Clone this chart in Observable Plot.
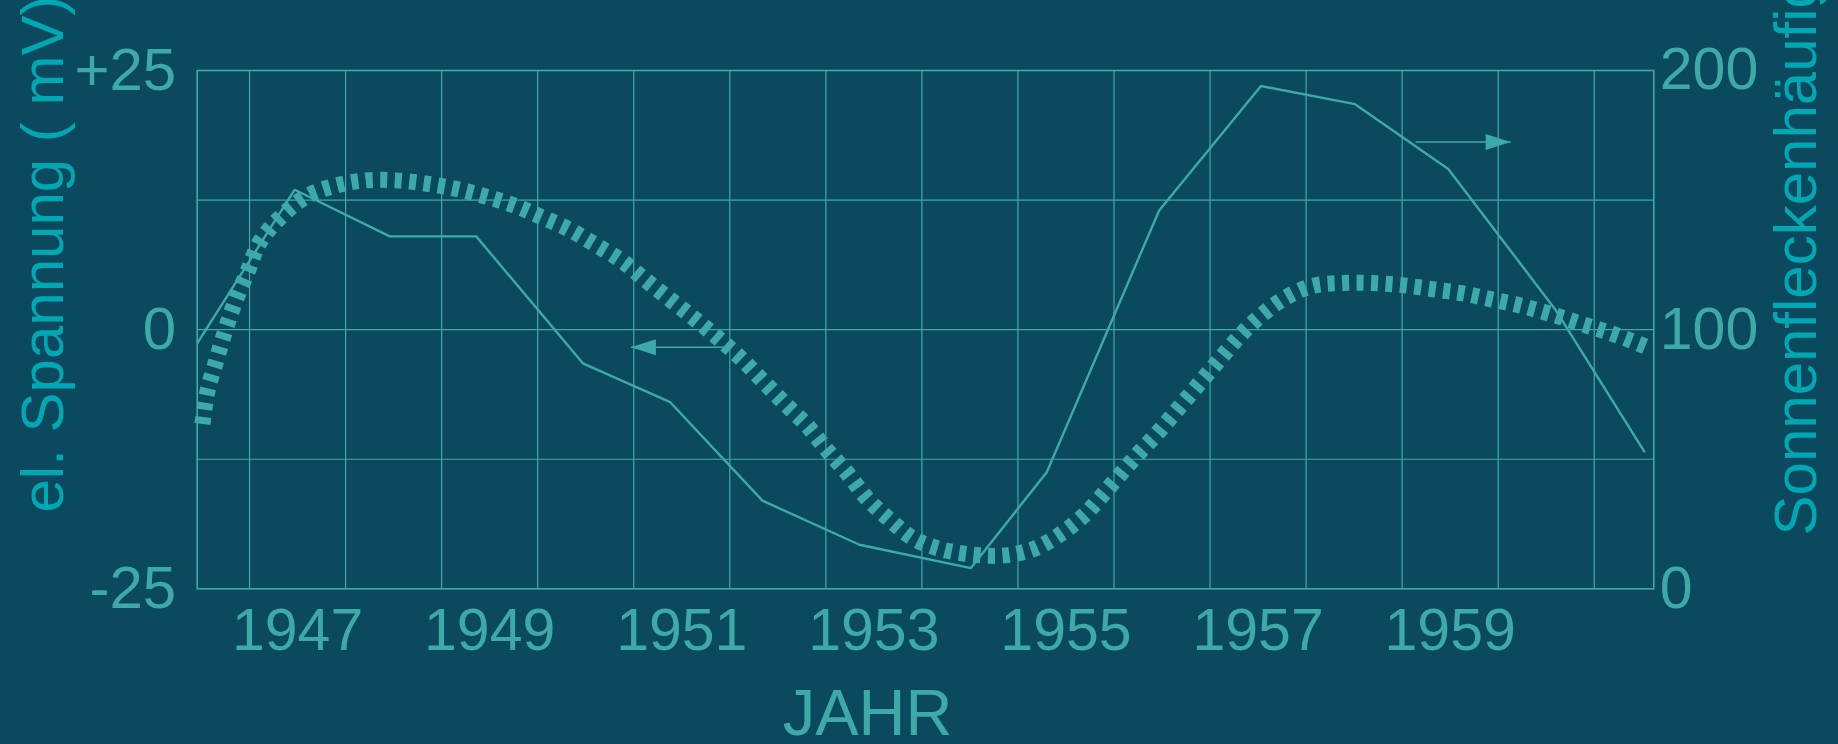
<!DOCTYPE html>
<html>
<head>
<meta charset="utf-8">
<script src="https://cdn.jsdelivr.net/npm/d3@7"></script>
<script src="https://cdn.jsdelivr.net/npm/@observablehq/plot@0.6"></script>
<style>
  html, body { margin: 0; padding: 0; background: #0b4a5e; overflow: hidden; }
</style>
</head>
<body>
<div id="chart"></div>
<script>
// ---- data ----
// Sunspot numbers (right axis), plotted near the middle of each year
const sunspotYears  = [1946.46, 1947.47, 1948.46, 1949.36, 1950.47, 1951.38, 1952.34, 1953.35, 1954.51, 1955.30, 1956.47, 1957.53, 1958.51, 1959.48, 1960.59, 1961.52];
const sunspotValues = [95, 154, 136, 136, 87, 72, 34, 17, 8, 45, 146, 194, 187, 162, 108, 53];

// Electric voltage in mV (left axis), smooth thick dotted curve
const voltYears  = [1946.51, 1946.56, 1946.65, 1946.75, 1946.85, 1946.98, 1947.11, 1947.35, 1947.60, 1947.90, 1948.21, 1948.52, 1948.83, 1949.14, 1949.44, 1949.75, 1950.03, 1950.32, 1950.60, 1950.88, 1951.12, 1951.38, 1951.64, 1951.89, 1952.13, 1952.35, 1952.58, 1952.81, 1953.01, 1953.22, 1953.43, 1953.66, 1953.92, 1954.21, 1954.52, 1954.84, 1955.15, 1955.43, 1955.69, 1955.81, 1956.23, 1956.45, 1956.66, 1956.86, 1957.07, 1957.29, 1957.51, 1957.77, 1958.06, 1958.38, 1958.69, 1959.00, 1959.32, 1959.63, 1959.94, 1960.24, 1960.55, 1960.85, 1961.16, 1961.45, 1961.58];
const voltValues = [-9.1, -6.0, -3.1, 0, 2.7, 5.6, 8.5, 11.1, 12.9, 13.9, 14.4, 14.4, 14.1, 13.6, 12.9, 12.0, 10.9, 9.7, 8.2, 6.6, 4.8, 2.9, 1.0, -0.9, -2.9, -5.0, -7.2, -9.3, -11.6, -13.8, -16.3, -18.3, -20.2, -21.2, -21.7, -21.8, -21.2, -19.8, -17.9, -16.7, -12.2, -10.0, -7.7, -5.5, -3.2, -0.8, 1.2, 3.0, 4.2, 4.5, 4.5, 4.3, 3.9, 3.5, 2.9, 2.3, 1.5, 0.6, -0.3, -1.3, -1.8];

// Arrows: one pointing to the left axis (voltage), one to the right axis (sunspots)
const arrowFromYears = [1951.94, 1959.14];
const arrowToYears   = [1950.97, 1960.13];
const arrowLevelsMV  = [-1.7, 18.1];

// Axes / grid
const gridYears      = [1947, 1948, 1949, 1950, 1951, 1952, 1953, 1954, 1955, 1956, 1957, 1958, 1959, 1960, 1961];
const gridVolts      = [-12.5, 0, 12.5];
const xLabelYears    = [1947, 1949, 1951, 1953, 1955, 1957, 1959];
const leftTicks      = [-25, 0, 25];
const leftTickLabels = ["-25", "0", "+25"];
const rightTicks     = [0, 100, 200];
const rightTickLabels = ["0", "100", "200"];

const xTitle = "JAHR";
const leftTitle = "el. Spannung ( mV)";
const rightTitle = "Sonnenfleckenhäufigkeit";

// ---- helpers ----
const toMV = s => (s - 100) / 4;          // sunspot scale 0..200 ↔ mV -25..+25
const sun = sunspotYears.map((year, i) => ({year, count: sunspotValues[i]}));
const volt = voltYears.map((year, i) => ({year, mv: voltValues[i]}));
const arrows = arrowFromYears.map((from, i) => ({from, to: arrowToYears[i], level: arrowLevelsMV[i]}));

const bg = "#0b4a5e";
const ink = "#3ea9a9";
const titleInk = "#00a8b3";

const headRight = { draw(ctx) { ctx.moveTo(0, 0); ctx.lineTo(-25, -8); ctx.lineTo(-25, 8); ctx.closePath(); } };
const headLeft  = { draw(ctx) { ctx.moveTo(0, 0); ctx.lineTo(25, -8); ctx.lineTo(25, 8); ctx.closePath(); } };

const chart = Plot.plot({
  width: 1838,
  height: 744,
  marginTop: 70,
  marginRight: 184.7,
  marginBottom: 155.7,
  marginLeft: 196.7,
  style: {background: bg, color: ink, fontFamily: "'Liberation Sans', Arial, sans-serif", fontSize: "59px"},
  x: {domain: [1946.455, 1961.62]},
  y: {domain: [-25, 25]},
  marks: [
    Plot.ruleX(gridYears, {stroke: ink, strokeWidth: 1.2}),
    Plot.ruleY(gridVolts, {stroke: ink, strokeWidth: 1.2}),
    Plot.frame({stroke: ink, strokeWidth: 1.6}),
    Plot.line(sun, {x: "year", y: d => toMV(d.count), stroke: ink, strokeWidth: 2.4, strokeLinejoin: "miter"}),
    Plot.line(volt, {x: "year", y: "mv", stroke: ink, strokeWidth: 16, strokeDasharray: "7 7.5", strokeLinecap: "butt", strokeLinejoin: "miter", curve: "catmull-rom"}),
    Plot.link(arrows, {x1: "from", x2: "to", y1: "level", y2: "level", stroke: ink, strokeWidth: 1.5}),
    Plot.dot([arrows[0]], {x: "to", y: "level", symbol: headLeft, fill: ink, stroke: null}),
    Plot.dot([arrows[1]], {x: "to", y: "level", symbol: headRight, fill: ink, stroke: null}),
    Plot.axisX({ticks: xLabelYears.map(y => y + 0.5), tickFormat: d => String(Math.floor(d)), tickSize: 0, tickPadding: 19, label: null}),
    Plot.axisY({anchor: "left", ticks: leftTicks, tickFormat: d => leftTickLabels[leftTicks.indexOf(d)], tickSize: 0, tickPadding: 21, label: null, fontSize: 60}),
    Plot.axisY({anchor: "right", ticks: rightTicks.map(toMV), tickFormat: d => rightTickLabels[rightTicks.map(toMV).indexOf(d)], tickSize: 0, tickPadding: 6, label: null}),
    Plot.text([xTitle], {frameAnchor: "bottom", textAnchor: "middle", lineAnchor: "top", dx: -58, dy: 100, fontSize: 65, fill: ink}),
    Plot.text([leftTitle], {frameAnchor: "left", rotate: -90, textAnchor: "start", lineAnchor: "middle", dx: -153.9, dy: 182.85, fontSize: 60, fill: titleInk}),
    Plot.text([rightTitle], {frameAnchor: "right", rotate: -90, textAnchor: "start", lineAnchor: "middle", dx: 142.5, dy: 205.85, fontSize: 60, fill: titleInk})
  ]
});
document.getElementById("chart").appendChild(chart);
</script>
</body>
</html>
